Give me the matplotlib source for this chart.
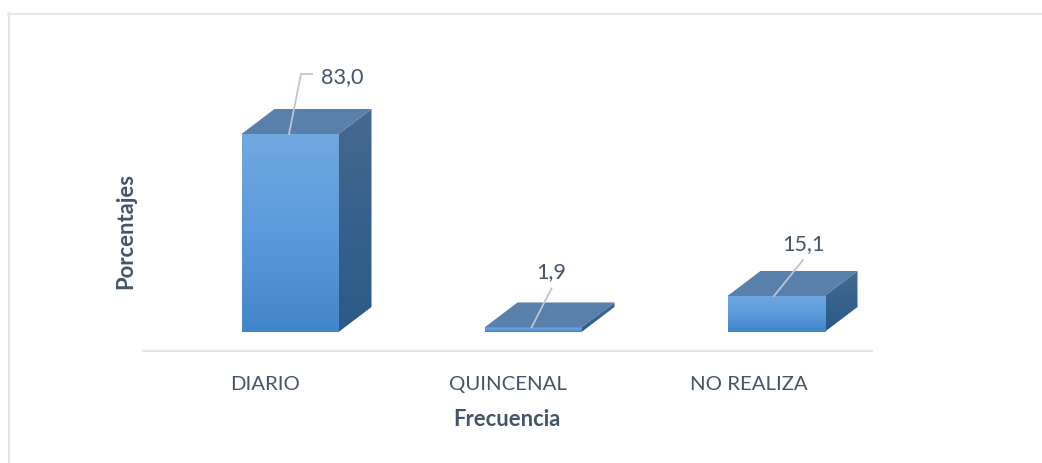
import numpy as np
import matplotlib
matplotlib.use('Agg')
import matplotlib.pyplot as plt
from matplotlib.patches import Polygon
from matplotlib.colors import LinearSegmentedColormap

plt.rcParams['font.family'] = ['Lato', 'DejaVu Sans']

# data
categorias = ['DIARIO', 'QUINCENAL', 'NO REALIZA']
valores = [83.0, 1.9, 15.1]
etiquetas = ['83,0', '1,9', '15,1']

W, H = 1042, 463
texto = '#44546a'
fig = plt.figure(figsize=(W/100, H/100), dpi=100)

# outer frame of the pasted chart
fig.add_artist(plt.Line2D([8/W, 1], [1-13.5/H, 1-13.5/H], color='#e2e6eb', lw=1.5))
fig.add_artist(plt.Line2D([8.5/W, 8.5/W], [0, 1-13/H], color='#e2e6eb', lw=1.5))

ax = fig.add_axes([142/W, 1-351/H, 731/W, 311/H])
ppx = 243.0        # px per category
ppy = 198/83.0     # px per percent
xlim = (-(265.5-142)/ppx, (873-265.5)/ppx)
ylim = (-19/ppy, 292/ppy)

ancho = 97/ppx
desp = 24.5/ppx
dx = 33/ppx
dy = 25/ppy

frente = LinearSegmentedColormap.from_list('f', ['#4286c8', '#5b9bdc', '#70a8e0'])
lado = LinearSegmentedColormap.from_list('l', ['#2b5a87', '#36618c', '#47698f'])
grad = np.linspace(0, 1, 128).reshape(-1, 1)

for i, v in enumerate(valores):
    x0 = i + desp - ancho/2
    x1 = x0 + ancho
    # front face
    ax.imshow(grad, extent=[x0, x1, 0, v], origin='lower', aspect='auto', cmap=frente, zorder=3)
    # side face
    sp = Polygon([(x1, 0), (x1+dx, dy), (x1+dx, v+dy), (x1, v)], closed=True, fc='none', ec='none')
    ax.add_patch(sp)
    im = ax.imshow(grad, extent=[x1, x1+dx, 0, v+dy], origin='lower', aspect='auto', cmap=lado, zorder=2)
    im.set_clip_path(sp)
    # top face
    ax.add_patch(Polygon([(x0, v), (x1, v), (x1+dx, v+dy), (x0+dx, v+dy)], closed=True,
                         fc='#5980aa', ec='none', zorder=3))

ax.set_xlim(*xlim)
ax.set_ylim(*ylim)

# leader lines and data labels
guia = '#bcc6d2'
ini = [-1/ppx, -1.5/ppx, -2/ppx]
lx = [12/ppx, 20/ppx, 29/ppx]
ly = [60/ppy, 39/ppy, 36/ppy]
for i, v in enumerate(valores):
    xc = i + desp + ini[i]
    xt = xc + lx[i]
    yt = v + ly[i]
    if i == 0:
        ax.plot([xc, xt, xt + 11/ppx], [v, yt, yt], color=guia, lw=1.3, zorder=5, clip_on=False)
        ax.text(xt + 20/ppx, yt - 3/ppy, etiquetas[i], ha='left', va='center', fontsize=15.6, color=texto)
    else:
        ax.plot([xc, xt], [v, yt], color=guia, lw=1.3, zorder=5, clip_on=False)
        ax.text(xt, yt + 16/ppy, etiquetas[i], ha='center', va='center', fontsize=15.6, color=texto)

for s in ['top', 'left', 'right']:
    ax.spines[s].set_visible(False)
ax.spines['bottom'].set_color('#e2e5ea')
ax.spines['bottom'].set_linewidth(1.5)
ax.spines['bottom'].set_capstyle('butt')
ax.set_yticks([])
ax.set_xticks([0, 0.996, 1.99])
ax.set_xticklabels(categorias, fontsize=14.7, color=texto)
ax.tick_params(axis='x', length=0, pad=18)

fig.text(507/W, 1-419/H, 'Frecuencia', ha='center', va='center', fontsize=15.8, fontweight='bold', color=texto)
fig.text(126/W, 1-231/H, 'Porcentajes', ha='center', va='center', rotation=90, fontsize=15.8, fontweight='bold', color=texto)

fig.savefig('out.png', dpi=100)
